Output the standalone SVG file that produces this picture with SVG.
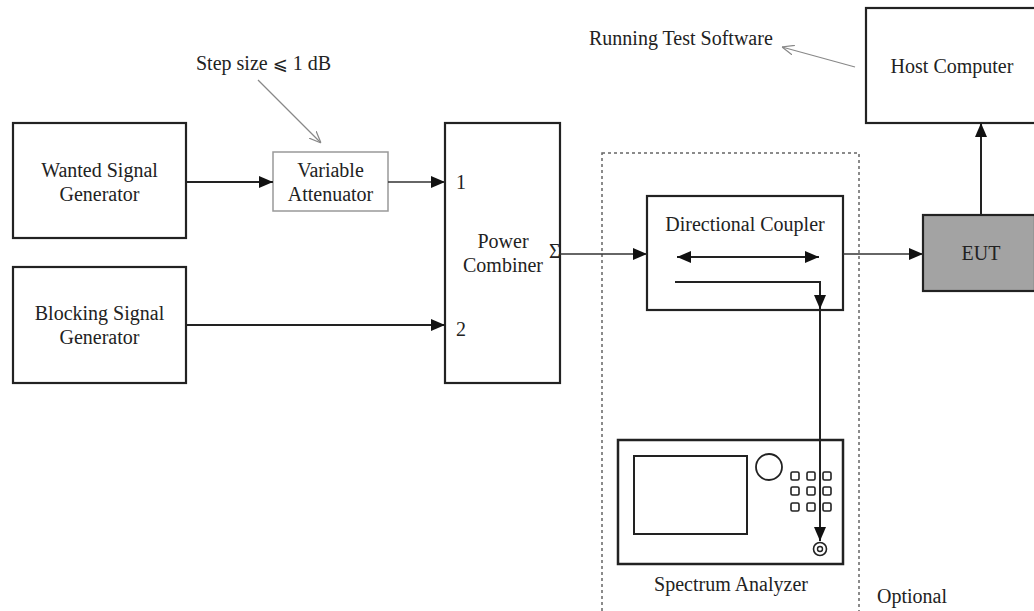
<svg xmlns="http://www.w3.org/2000/svg" width="1034" height="611" viewBox="0 0 1034 611">
<defs>
<style>
text{font-family:"Liberation Serif","DejaVu Serif",serif;fill:#222;font-size:20px}
.c{text-anchor:middle}
.box{fill:#fff;stroke:#222;stroke-width:2.2}
.ln{fill:none;stroke:#222;stroke-width:2}
.thin{fill:none;stroke:#333;stroke-width:1.4}
.note{fill:none;stroke:#888;stroke-width:1.2}
</style>
<marker id="ah" markerUnits="userSpaceOnUse" viewBox="0 0 14 12" markerWidth="14" markerHeight="12" refX="14" refY="6" orient="auto-start-reverse">
<path d="M0,0 L14,6 L0,12 Z" fill="#111"/>
</marker>
<marker id="oa" markerUnits="userSpaceOnUse" viewBox="0 0 12 10" markerWidth="12" markerHeight="10" refX="12" refY="5" orient="auto">
<path d="M0,0 L12,5 L0,10" fill="none" stroke="#888" stroke-width="1.2"/>
</marker>
</defs>
<rect width="1034" height="611" fill="#fff"/>

<g id="optional-region">
<rect x="602" y="153" width="257" height="470" fill="none" stroke="#666" stroke-width="1.5" stroke-dasharray="3,3"/>
<text x="877" y="603">Optional</text>
</g>

<g id="wanted-signal-generator">
<rect class="box" x="13" y="123" width="173" height="115"/>
<text class="c" x="99.5" y="177">Wanted Signal</text>
<text class="c" x="99.5" y="201">Generator</text>
</g>

<g id="blocking-signal-generator">
<rect class="box" x="13" y="267" width="173" height="116"/>
<text class="c" x="99.5" y="320">Blocking Signal</text>
<text class="c" x="99.5" y="344">Generator</text>
</g>

<g id="variable-attenuator">
<rect x="273" y="152" width="115" height="59" fill="#fff" stroke="#999" stroke-width="1.5"/>
<text class="c" x="330.5" y="177">Variable</text>
<text class="c" x="330.5" y="201">Attenuator</text>
</g>

<g id="step-size-note">
<text x="196" y="70">Step size <tspan font-family="'DejaVu Serif','DejaVu Sans',serif" font-size="18">⩽</tspan> 1 dB</text>
</g>

<g id="power-combiner">
<rect class="box" x="445" y="123" width="115" height="260"/>
<text class="c" x="503" y="248">Power</text>
<text class="c" x="503" y="272">Combiner</text>
<text x="456" y="189" font-size="18">1</text>
<text x="456" y="336" font-size="18">2</text>
<text x="549" y="258" font-size="12">Σ</text>
</g>

<g id="directional-coupler">
<rect class="box" x="647" y="196" width="196" height="114"/>
<text class="c" x="745" y="231">Directional Coupler</text>
</g>

<g id="eut">
<rect x="923" y="215" width="112" height="76" fill="#a3a3a3" stroke="#222" stroke-width="2.2"/>
<text class="c" x="981" y="260">EUT</text>
</g>

<g id="host-computer">
<rect class="box" x="866" y="8" width="170" height="115"/>
<text class="c" x="952" y="73">Host Computer</text>
</g>

<g id="running-test-software-note">
<text x="589" y="45">Running Test Software</text>
</g>

<g id="spectrum-analyzer">
<rect x="618" y="440" width="225" height="124" fill="#fff" stroke="#222" stroke-width="2.5"/>
<rect x="634" y="456" width="113" height="78" fill="#fff" stroke="#222" stroke-width="2"/>
<circle cx="769" cy="467" r="13" fill="#fff" stroke="#222" stroke-width="1.8"/>
<g fill="#fff" stroke="#222" stroke-width="1.6">
<rect x="791" y="472" width="8" height="8" rx="1.5"/>
<rect x="807" y="472" width="8" height="8" rx="1.5"/>
<rect x="823" y="472" width="8" height="8" rx="1.5"/>
<rect x="791" y="487" width="8" height="8" rx="1.5"/>
<rect x="807" y="487" width="8" height="8" rx="1.5"/>
<rect x="823" y="487" width="8" height="8" rx="1.5"/>
<rect x="791" y="503" width="8" height="8" rx="1.5"/>
<rect x="807" y="503" width="8" height="8" rx="1.5"/>
<rect x="823" y="503" width="8" height="8" rx="1.5"/>
</g>
<circle cx="820" cy="549" r="6.5" fill="#fff" stroke="#222" stroke-width="1.6"/>
<circle cx="820" cy="549" r="2.5" fill="#fff" stroke="#222" stroke-width="1.4"/>
<text class="c" x="731" y="591">Spectrum Analyzer</text>
</g>

<g id="connectors">
<line class="ln" x1="186" y1="182" x2="273" y2="182" marker-end="url(#ah)"/>
<line class="thin" x1="388" y1="182" x2="445" y2="182" marker-end="url(#ah)"/>
<line class="ln" x1="186" y1="325" x2="445" y2="325" marker-end="url(#ah)"/>
<line class="thin" x1="560" y1="254" x2="647" y2="254" marker-end="url(#ah)"/>
<line class="thin" x1="843" y1="254" x2="923" y2="254" marker-end="url(#ah)"/>
<line class="ln" x1="981" y1="215" x2="981" y2="123" marker-end="url(#ah)"/>
<line class="ln" x1="677" y1="257" x2="819" y2="257" marker-start="url(#ah)" marker-end="url(#ah)"/>
<path class="ln" d="M675,282 H820 V309" marker-end="url(#ah)"/>
<line class="ln" x1="820" y1="309" x2="820" y2="541" marker-end="url(#ah)"/>
<line class="note" x1="258" y1="80" x2="321" y2="143" marker-end="url(#oa)"/>
<line class="note" x1="855" y1="67" x2="782" y2="47" marker-end="url(#oa)"/>
</g>
</svg>
